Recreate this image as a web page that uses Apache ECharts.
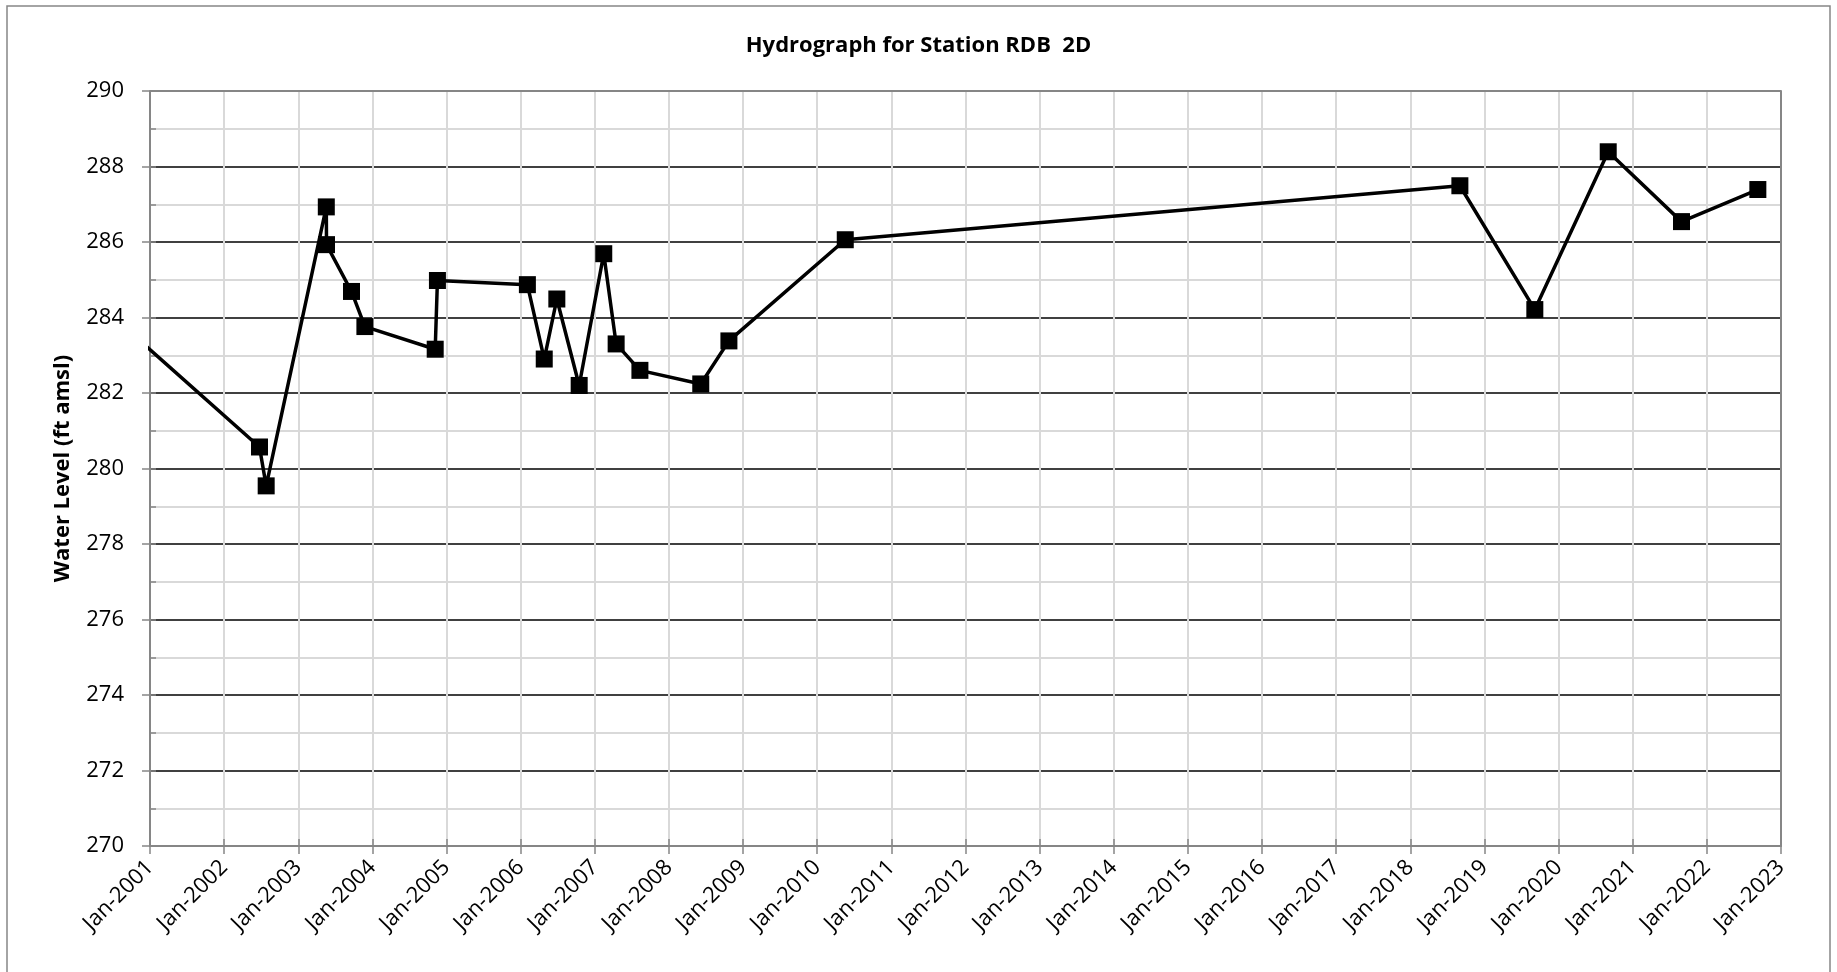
<!DOCTYPE html>
<html>
<head>
<meta charset="utf-8">
<script src="https://cdn.jsdelivr.net/npm/echarts@6/dist/echarts.min.js"></script>
<style>
html,body{margin:0;padding:0;background:#fff;}
#chart{width:1837px;height:972px;}
</style>
</head>
<body>
<div id="chart"></div>
<script>
// Sample dates (first one lies before the axis start and is clipped)
var sampleDates = [
  '2000-09-01',
  '2002-06-24', '2002-07-27', '2003-05-19', '2003-05-20', '2003-09-20',
  '2003-11-25', '2004-11-06', '2004-11-17', '2006-02-03', '2006-04-27',
  '2006-06-28', '2006-10-16', '2007-02-14', '2007-04-16', '2007-08-11',
  '2008-06-06', '2008-10-23', '2010-05-19', '2018-09-02', '2019-09-06',
  '2020-09-02', '2021-08-29', '2022-09-09'
];
// Water level (ft amsl)
var waterLevels = [
  283.73,
  280.57, 279.54, 286.93, 285.93, 284.69,
  283.76, 283.16, 284.98, 284.87, 282.90,
  284.49, 282.20, 285.69, 283.30, 282.60,
  282.24, 283.38, 286.06, 287.49, 284.21,
  288.39, 286.54, 287.39
];
var xTickYears = [2001, 2023];       // axis range, one label per January
var yTickRange = [270, 290];

function toDecimalYear(s) {
  var p = s.split('-').map(Number);
  var y = p[0];
  var start = Date.UTC(y, 0, 1), end = Date.UTC(y + 1, 0, 1);
  var d = Date.UTC(y, p[1] - 1, p[2]);
  return y + (d - start) / (end - start);
}
var seriesData = sampleDates.map(function (d, i) { return [toDecimalYear(d), waterLevels[i]]; });

var FONT = 'Open Sans';
var GRAY = '#868686';
var LIGHT = '#d9d9d9';

var chart = echarts.init(document.getElementById('chart'), null, {renderer: 'canvas'});
chart.setOption({
  animation: false,
  backgroundColor: '#fff',
  title: {
    text: 'Hydrograph for Station RDB  2D',
    left: 'center',
    top: 30,
    textStyle: {fontFamily: FONT, fontWeight: 'bold', fontSize: 22, color: '#000'}
  },
  graphic: [{
    type: 'rect',
    shape: {x: 7, y: 6, width: 1823, height: 990},
    style: {fill: 'none', stroke: GRAY, lineWidth: 1.5},
    silent: true, z: -1
  }],
  grid: {left: 150, right: 56, top: 91, bottom: 126, containLabel: false},
  xAxis: [{
    type: 'value',
    min: xTickYears[0], max: xTickYears[1], interval: 1,
    axisLine: {show: true, onZero: false, lineStyle: {color: GRAY, width: 2}},
    axisTick: {show: true, length: 8, lineStyle: {color: GRAY, width: 1.5}},
    axisLabel: {
      rotate: 45, margin: 18,
      fontFamily: FONT, fontSize: 22, color: '#000',
      formatter: function (v) { return 'Jan-' + Math.round(v); }
    },
    splitLine: {show: true, lineStyle: {color: LIGHT, width: 2}}
  }, {
    type: 'value', position: 'bottom',
    min: xTickYears[0], max: xTickYears[1], interval: 1,
    axisLine: {show: false},
    axisTick: {show: true, inside: true, length: 7, lineStyle: {color: GRAY, width: 1.5}},
    axisLabel: {show: false}, splitLine: {show: false}
  }],
  yAxis: [{
    type: 'value',
    min: yTickRange[0], max: yTickRange[1], interval: 2,
    name: 'Water Level (ft amsl)',
    nameLocation: 'middle', nameGap: 76,
    nameTextStyle: {fontFamily: FONT, fontWeight: 'bold', fontSize: 22, color: '#000'},
    axisLine: {show: true, lineStyle: {color: GRAY, width: 2}},
    axisTick: {show: true, length: 8, lineStyle: {color: GRAY, width: 1.5}},
    axisLabel: {margin: 26, fontFamily: FONT, fontSize: 22, color: '#000'},
    splitLine: {show: true, lineStyle: {color: '#000', width: 1.5}},
    minorTick: {show: false, splitNumber: 2},
    minorSplitLine: {show: true, lineStyle: {color: LIGHT, width: 2}}
  }, {
    type: 'value', position: 'left',
    min: yTickRange[0], max: yTickRange[1], interval: 1,
    axisLine: {show: false},
    axisTick: {show: true, inside: true, length: 6, lineStyle: {color: GRAY, width: 1.5}},
    axisLabel: {show: false}, splitLine: {show: false}
  }, {
    // right frame of the plot area
    type: 'value', position: 'right',
    min: yTickRange[0], max: yTickRange[1],
    axisLine: {show: true, lineStyle: {color: GRAY, width: 2}},
    axisTick: {show: false}, axisLabel: {show: false}, splitLine: {show: false}
  }],
  series: [{
    type: 'line',
    data: seriesData,
    xAxisIndex: 0, yAxisIndex: 0,
    clip: true,
    symbol: 'rect', symbolSize: 17,
    itemStyle: {color: '#000'},
    lineStyle: {color: '#000', width: 3.5},
    z: 5
  }, {
    // top frame of the plot area
    type: 'line',
    data: [[xTickYears[0], yTickRange[1]], [xTickYears[1], yTickRange[1]]],
    symbol: 'none', silent: true,
    lineStyle: {color: GRAY, width: 2}, z: 4
  }]
});
</script>
</body>
</html>
